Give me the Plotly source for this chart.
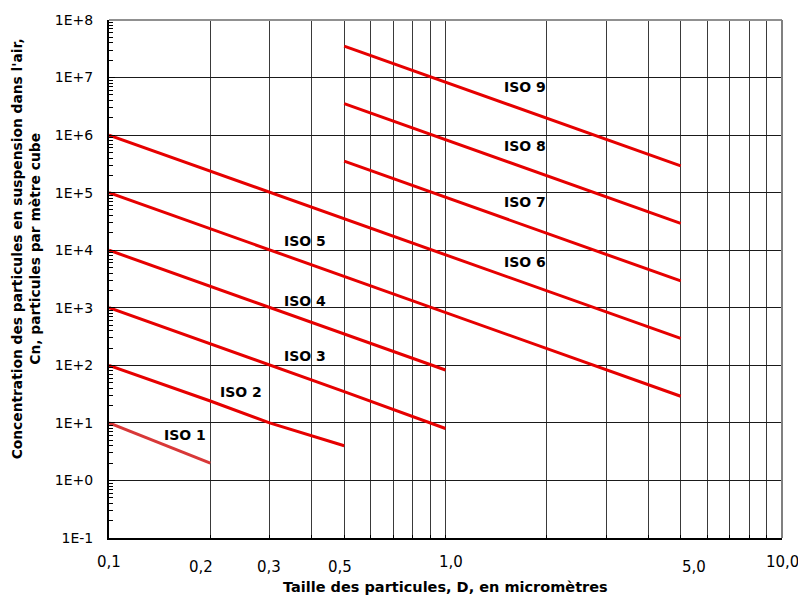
import numpy as np
import plotly.graph_objects as go

# ---- data (ISO 14644-1 class limits, particles per m3) ----
iso1_x = [0.1, 0.2]
iso1_y = [10, 2]
iso2_x = [0.1, 0.2, 0.3, 0.5]
iso2_y = [100, 24, 10, 4]
iso3_x = [0.1, 0.2, 0.3, 0.5, 1.0]
iso3_y = [1000, 237, 102, 35, 8]
iso4_x = [0.1, 0.2, 0.3, 0.5, 1.0]
iso4_y = [10000, 2370, 1020, 352, 83]
iso5_x = [0.1, 0.2, 0.3, 0.5, 1.0, 5.0]
iso5_y = [100000, 23700, 10200, 3520, 832, 29]
iso6_x = [0.1, 0.2, 0.3, 0.5, 1.0, 5.0]
iso6_y = [1000000, 237000, 102000, 35200, 8320, 293]
iso7_x = [0.5, 1.0, 5.0]
iso7_y = [352000, 83200, 2930]
iso8_x = [0.5, 1.0, 5.0]
iso8_y = [3520000, 832000, 29300]
iso9_x = [0.5, 1.0, 5.0]
iso9_y = [35200000, 8320000, 293000]

series_names = ["ISO 1", "ISO 2", "ISO 3", "ISO 4", "ISO 5", "ISO 6", "ISO 7", "ISO 8", "ISO 9"]
series_x = [iso1_x, iso2_x, iso3_x, iso4_x, iso5_x, iso6_x, iso7_x, iso8_x, iso9_x]
series_y = [iso1_y, iso2_y, iso3_y, iso4_y, iso5_y, iso6_y, iso7_y, iso8_y, iso9_y]

label_x = [0.168, 0.247, 0.383, 0.383, 0.383, 1.72, 1.72, 1.72, 1.72]
label_y = [6.25, 34, 146, 1330, 14700, 6200, 68000, 645000, 6860000]

x_grid = [0.1, 0.2, 0.3, 0.4, 0.5, 0.6, 0.7, 0.8, 0.9, 1, 2, 3, 4, 5, 6, 7, 8, 9, 10]
x_tick_vals = [0.1, 0.2, 0.3, 0.5, 1.0, 5.0, 10.0]
x_tick_text = ["0,1", "0,2", "0,3", "0,5", "1,0", "5,0", "10,0"]
x_tick_low = [False, True, True, True, False, True, False]
x_tick_shift = [0, -9, -1, -4, 5, 13, 0]

y_tick_vals = [1e-1, 1e0, 1e1, 1e2, 1e3, 1e4, 1e5, 1e6, 1e7, 1e8]
y_tick_text = ["1E-1", "1E+0", "1E+1", "1E+2", "1E+3", "1E+4", "1E+5", "1E+6", "1E+7", "1E+8"]

FONT = "DejaVu Sans"

fig = go.Figure()
for i, (n, xs, ys) in enumerate(zip(series_names, series_x, series_y)):
    color = "#d83838" if i == 0 else "#e60000"
    fig.add_trace(go.Scatter(x=xs, y=ys, mode="lines", name=n, hoverinfo="skip",
                             line=dict(color=color, width=3), showlegend=False))

annotations = []
for n, lx, ly in zip(series_names, label_x, label_y):
    annotations.append(dict(x=np.log10(lx), y=np.log10(ly), xref="x", yref="y", text="<b>%s</b>" % n,
                            showarrow=False, font=dict(family=FONT, size=14, color="black"),
                            xanchor="center", yanchor="middle"))

for v, t, low, sh in zip(x_tick_vals, x_tick_text, x_tick_low, x_tick_shift):
    annotations.append(dict(x=np.log10(v), y=-0.0551 if low else -0.0456, xref="x", yref="paper",
                            text=t, showarrow=False, xshift=sh,
                            font=dict(family=FONT, size=15, color="black"),
                            xanchor="center", yanchor="middle"))

annotations.append(dict(x=0.5, y=-0.095, xref="paper", yref="paper",
                        text="<b>Taille des particules, D, en micromètres</b>", showarrow=False,
                        font=dict(family=FONT, size=14.5, color="black"), xanchor="center", yanchor="middle"))
annotations.append(dict(x=-0.122, y=0.559, xref="paper", yref="paper",
                        text="<b>Concentration des particules en suspension dans l'air,<br>Cn, particules par mètre cube</b>",
                        showarrow=False, textangle=-90,
                        font=dict(family=FONT, size=13.8, color="black"), xanchor="center", yanchor="middle"))

minor_y = []
for e in range(-1, 8):
    for m in range(2, 10):
        minor_y.append(m * 10.0 ** e)

fig.update_layout(
    width=798, height=600,
    margin=dict(l=109, r=16, t=12, b=62),
    paper_bgcolor="white", plot_bgcolor="white",
    font=dict(family=FONT, size=14, color="black"),
    annotations=annotations,
    hovermode=False,
    xaxis=dict(type="log", range=[-1, 1], tickmode="array", tickvals=x_grid,
               showticklabels=False, showgrid=True, gridcolor="#3a3a3a", gridwidth=1,
               ticks="inside", ticklen=3, tickcolor="black",
               showline=True, linecolor="black", linewidth=2, zeroline=False),
    yaxis=dict(type="log", range=[-1, 8], tickmode="array", tickvals=y_tick_vals, ticktext=y_tick_text,
               showgrid=True, gridcolor="#1a1a1a", gridwidth=1,
               ticks="inside", ticklen=6, tickcolor="black", ticklabelstandoff=11,
               tickfont=dict(family=FONT, size=14, color="black"),
               minor=dict(tickvals=minor_y, ticks="inside", ticklen=4, tickcolor="black", showgrid=False),
               showline=True, linecolor="black", linewidth=2, zeroline=False),
    shapes=[
        dict(type="line", xref="paper", yref="paper", x0=0, x1=1, y0=1, y1=1,
             line=dict(color="#909090", width=2)),
        dict(type="line", xref="paper", yref="paper", x0=1, x1=1, y0=0, y1=1,
             line=dict(color="#808080", width=2)),
    ],
)

fig.write_html("out.html", config={"displayModeBar": False, "staticPlot": True},
               post_script="document.body.style.margin='0';document.body.style.overflow='hidden';")
